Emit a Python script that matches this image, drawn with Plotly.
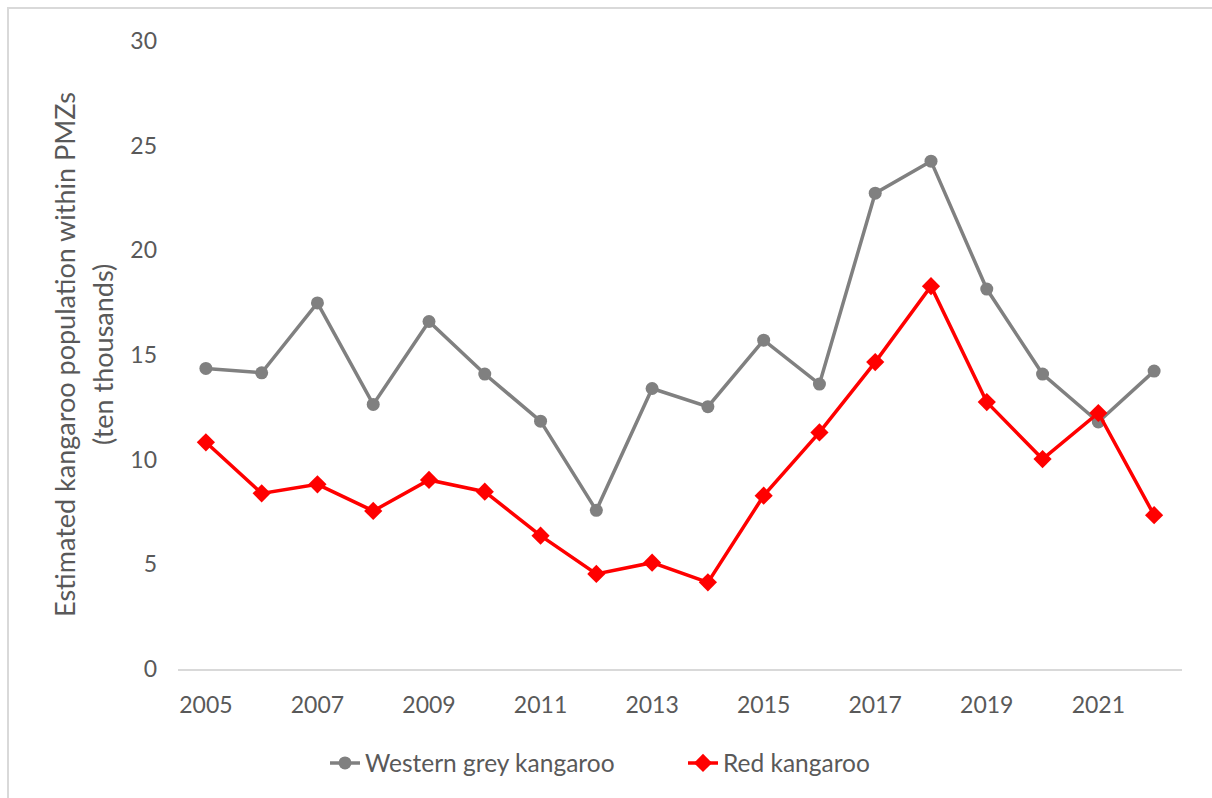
import plotly.graph_objects as go

years = list(range(2005, 2023))
western_grey = [14.36, 14.15, 17.49, 12.64, 16.60, 14.09, 11.84, 7.58, 13.40, 12.53,
                15.71, 13.61, 22.73, 24.26, 18.15, 14.09, 11.80, 14.23]
red = [10.83, 8.39, 8.82, 7.55, 9.03, 8.47, 6.37, 4.54, 5.08, 4.14,
       8.28, 11.30, 14.66, 18.29, 12.75, 10.03, 12.23, 7.35]
x_tick_labels = [str(y) for y in range(2005, 2022, 2)]
y_tick_vals = [0, 5, 10, 15, 20, 25, 30]

W, H = 1212, 798
L, R, T, B = 178, 30, 41, 129
pw = W - L - R
ph = H - T - B

FONT = "Lato"
TXT = "#595959"

fig = go.Figure()
fig.add_trace(go.Scatter(
    x=years, y=western_grey, name="Western grey kangaroo", mode="lines+markers",
    line=dict(color="#808080", width=3.5),
    marker=dict(symbol="circle", size=13, color="#808080"),
))
fig.add_trace(go.Scatter(
    x=years, y=red, name="Red kangaroo", mode="lines+markers",
    line=dict(color="#FF0000", width=3.5),
    marker=dict(symbol="diamond", size=14, color="#FF0000"),
))

def px_x(p):
    return (p - L) / pw

def px_y(p):
    return (H - B - p) / ph

fig.update_layout(
    width=W, height=H, autosize=False,
    margin=dict(l=L, r=R, t=T, b=B),
    paper_bgcolor="white", plot_bgcolor="white",
    font=dict(family=FONT, size=23, color=TXT),
    showlegend=True,
    legend=dict(orientation="h", xref="container", yref="container",
                x=325 / W, xanchor="left", y=1 - 763 / H, yanchor="middle",
                font=dict(family=FONT, size=24.5, color=TXT),
                entrywidth=313, entrywidthmode="pixels", tracegroupgap=0),
    xaxis=dict(range=[2004.5, 2022.5], tickmode="array",
               tickvals=[int(t) for t in x_tick_labels], ticktext=x_tick_labels,
               showgrid=False, zeroline=False, showline=True,
               linecolor="#d9d9d9", linewidth=2, ticks="",
               ticklabelstandoff=14,
               tickfont=dict(family=FONT, size=23, color=TXT)),
    yaxis=dict(range=[0, 30], tickmode="array", tickvals=y_tick_vals,
               showgrid=False, zeroline=False, showline=False, ticks="",
               ticklabelstandoff=20,
               tickfont=dict(family=FONT, size=23, color=TXT)),
    shapes=[dict(type="rect", xref="paper", yref="paper",
                 x0=px_x(8), x1=px_x(W + 20), y0=px_y(H + 20), y1=px_y(8),
                 line=dict(color="#d9d9d9", width=2), fillcolor="rgba(0,0,0,0)",
                 layer="below")],
    annotations=[
        dict(text="Estimated kangaroo population within PMZs", textangle=-90,
             xref="paper", yref="paper", x=px_x(64), y=0.5,
             xanchor="center", yanchor="middle", showarrow=False,
             font=dict(family=FONT, size=27, color=TXT)),
        dict(text="(ten thousands)", textangle=-90,
             xref="paper", yref="paper", x=px_x(102), y=0.5,
             xanchor="center", yanchor="middle", showarrow=False,
             font=dict(family=FONT, size=27, color=TXT)),
    ],
)

fig.write_html("out.html")
